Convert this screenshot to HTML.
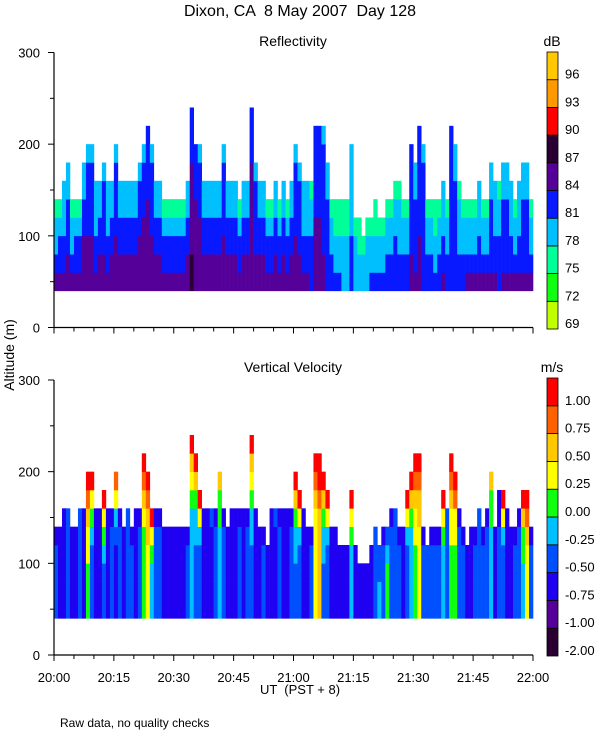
<!DOCTYPE html>
<html><head><meta charset="utf-8"><style>
html,body{margin:0;padding:0;background:#fff;}
svg{display:block;font-family:"Liberation Sans",sans-serif;}
text{white-space:pre;fill:#000;}
</style></head><body>
<svg id="chart" width="600" height="750" viewBox="0 0 600 750">
<text x="300" y="16" font-size="16" text-anchor="middle">Dixon, CA  8 May 2007  Day 128</text>
<text x="293" y="46" font-size="14" text-anchor="middle">Reflectivity</text>
<text x="293" y="372" font-size="14" text-anchor="middle">Vertical Velocity</text>
<text x="552" y="46" font-size="14" text-anchor="middle">dB</text>
<text x="552" y="372" font-size="14" text-anchor="middle">m/s</text>
<text transform="translate(14,355) rotate(-90)" font-size="14" text-anchor="middle">Altitude (m)</text>
<text x="300" y="694" font-size="13" text-anchor="middle">UT  (PST + 8)</text>
<text x="60" y="727" font-size="12">Raw data, no quality checks</text>
<g id="cells"></g>
<g id="axes"></g>
</svg>
<script>
// ---- data (per minute, 20:00 to 21:59 UT) ----
const reflTop = [140,140,160,180,140,140,140,180,200,200,160,160,180,160,160,200,160,160,160,160,160,180,200,220,200,160,160,140,140,140,140,140,140,160,240,200,200,160,160,160,160,160,200,160,160,160,140,160,160,240,180,160,160,140,140,160,140,160,140,160,
200,180,160,160,160,220,220,220,180,140,140,140,140,140,200,120,120,100,120,120,140,120,120,140,140,160,160,140,140,200,180,220,200,140,140,140,140,160,140,220,200,160,140,140,140,140,160,140,140,180,160,160,180,180,160,140,160,180,180,140];
const reflSurf = [85,86,85,86,85,86,86,87,86,86,85,86,86,85,86,86,87,86,86,87,86,87,87,87,86,86,86,86,86,86,86,86,86,86,88,87,87,87,86,86,86,86,86,86,86,86,86,86,87,87,86,86,86,86,86,86,86,86,86,86,
86,86,85,85,84,86,86,85,84,83,82,82,81,81,82,81,80,81,81,82,82,82,82,83,84,84,83,83,84,85,85,85,84,83,83,82,84,85,84,83,83,83,84,85,85,85,85,85,85,85,85,84,85,85,85,85,85,85,85,85];
const reflTopDb = [75.5,76,77,78,75.5,76,75.5,78,80,80,77,77,79,77,77,80,77,77,77,77,77,79,80,81,80,77,77,75.5,75.5,75.5,75.5,75.5,76,77,82,81,80,77,77,77,77,77,80,77,77,77,76,77,77,82,79,77,77,75.5,75.5,77,76,77,75.5,77,
80,79,77,77,77,81,81,80,79,75.5,75.5,75.5,75.5,75.5,79,76,76,77,76,76,75.5,76,76,76,76,77,77,75.5,75.5,81,79,81,80,75.5,75.5,75.5,75.5,77,75.5,81,80,77,75.5,75.5,75.5,75.5,77,75.5,75.5,79,77,77,79,79,77,75.5,77,79,79,75.5];
const velTop = [140,140,160,160,140,140,160,160,200,200,160,160,180,160,160,200,160,140,160,140,160,160,220,200,160,160,160,140,140,140,140,140,140,140,240,220,180,160,160,160,160,200,160,140,160,160,160,160,160,240,160,140,140,120,160,160,160,160,160,160,
200,180,160,140,140,220,220,200,180,140,140,120,120,120,180,120,100,100,100,120,140,120,140,140,160,160,140,140,180,200,220,220,140,120,140,140,140,180,160,220,200,160,140,120,140,140,160,140,160,200,140,180,180,160,140,140,160,180,180,140];
const velBase = [-0.4,-0.6,-0.6,-0.3,-0.6,-0.6,-0.4,-0.6,0.2,-0.4,-0.6,-0.6,-0.3,-0.6,-0.4,-0.6,-0.4,-0.6,-0.3,-0.4,-0.6,-0.4,0.1,0.4,-0.1,-0.4,-0.4,-0.6,-0.6,-0.7,-0.7,-0.6,-0.6,-0.4,-0.2,-0.3,-0.4,-0.6,-0.6,-0.6,-0.4,-0.2,-0.4,-0.6,-0.6,-0.6,-0.4,-0.6,-0.4,-0.3,-0.6,-0.6,-0.4,-0.6,-0.6,-0.6,-0.4,-0.6,-0.6,-0.4,
-0.3,-0.4,-0.6,-0.6,-0.4,0.3,0.6,-0.3,-0.4,-0.6,-0.6,-0.6,-0.6,-0.6,-0.2,-0.6,-0.6,-0.6,-0.6,-0.6,-0.3,-0.2,-0.4,0.1,-0.4,-0.3,-0.4,-0.6,-0.4,-0.2,0.2,0.4,-0.4,-0.3,-0.4,-0.4,-0.4,-0.2,-0.3,0.2,0.1,-0.4,-0.4,-0.6,-0.6,-0.4,-0.3,-0.4,-0.4,-0.2,-0.6,-0.4,-0.4,-0.6,-0.6,-0.4,-0.4,-0.1,0.3,-0.4];
const velTopV = [-0.6,-0.6,-0.6,-0.4,-0.6,-0.6,-0.4,-0.6,1.6,1.6,-0.6,-0.6,1.6,-0.6,-0.6,1.4,-0.6,-0.6,-0.4,-0.6,-0.6,-0.6,1.6,1.6,1.6,-0.6,-0.6,-0.6,-0.6,-0.6,-0.6,-0.6,-0.6,-0.6,1.6,1.6,1.6,-0.6,-0.6,-0.4,-0.6,0.8,-0.6,-0.6,-0.6,-0.6,-0.6,-0.6,-0.6,1.6,-0.6,-0.6,-0.6,-0.6,-0.6,-0.4,-0.6,-0.6,-0.6,-0.6,
1.6,1.6,-0.6,-0.6,-0.6,1.6,1.6,1.6,1.6,-0.6,-0.6,-0.6,-0.6,-0.6,1.6,-0.6,-0.6,-0.6,-0.6,-0.6,-0.4,-0.6,-0.6,-0.6,-0.6,-0.4,-0.6,-0.6,1.6,1.6,1.6,1.6,-0.6,-0.6,-0.6,-0.6,-0.6,1.6,-0.4,1.6,1.6,-0.6,-0.6,-0.6,-0.6,-0.6,-0.4,-0.6,-0.6,0.8,-0.6,-0.8,1.6,-0.6,-0.6,-0.6,-0.6,1.6,1.6,-0.6];
const dbTicks = [69,72,75,78,81,84,87,90,93,96];
const dbColors = ["#c0ff00","#10ff10","#00ff99","#00bfff","#0818ff","#550099","#2a0033","#ff0000","#ff9900","#ffc800"];
const velTicks = ["-2.00","-1.00","-0.75","-0.50","-0.25","0.00","0.25","0.50","0.75","1.00"];
const velEdges = [-2,-1,-0.75,-0.5,-0.25,0,0.25,0.5,0.75,1.0];
const velColors = ["#2a0033","#550099","#2000f0","#0050ff","#00c0ff","#10ff10","#ffff00","#ffc800","#ff6000","#ff0000"];
const altTicks = [0,100,200,300];
const timeLabels = ["20:00","20:15","20:30","20:45","21:00","21:15","21:30","21:45","22:00"];

// ---- geometry ----
const X0 = 54, X1 = 533, NMIN = 120;
const panels = [{y0:327.5, name:"reflectivity"},{y0:655, name:"velocity"}];
const PXM = 0.9167;
function xScale(m){ return X0 + (X1 - X0) * m / NMIN; }
function yScale(p, alt){ return p.y0 - alt * PXM; }
function dbColor(db){ let i = Math.floor((db - 69) / 3); i = Math.max(0, Math.min(9, i)); return dbColors[i]; }
function velColor(v){ let i = 0; for (let k = 0; k < velEdges.length; k++) if (v >= velEdges[k]) i = k; return velColors[i]; }

const NS = "http://www.w3.org/2000/svg";
const cells = document.getElementById("cells");
const axes = document.getElementById("axes");
function mk(tag, attrs, parent){ const e = document.createElementNS(NS, tag); for (const k in attrs) e.setAttribute(k, attrs[k]); parent.appendChild(e); return e; }

// reflectivity cells
for (let m = 0; m < NMIN; m++) {
  const top = reflTop[m];
  for (let a = 40; a < top; a += 20) {
    const g = (top - (a + 10)) / (top - 40);
    const db = reflTopDb[m] + (reflSurf[m] - reflTopDb[m]) * Math.pow(Math.max(g, 0), 0.8);
    const r = mk("rect", {x: xScale(m), y: yScale(panels[0], a + 20), width: xScale(m + 1) - xScale(m) + 0.3, height: 20 * PXM + 0.3, fill: dbColor(db)}, cells);
    
    
  }
}
// velocity cells
for (let m = 0; m < NMIN; m++) {
  const top = velTop[m];
  for (let a = 40; a < top; a += 20) {
    const f = ((a + 10) - 40) / (top - 40);
    const v = velBase[m] + (velTopV[m] - velBase[m]) * Math.pow(f, 4);
    const r = mk("rect", {x: xScale(m), y: yScale(panels[1], a + 20), width: xScale(m + 1) - xScale(m) + 0.3, height: 20 * PXM + 0.3, fill: velColor(v)}, cells);
    
    
  }
}

// axes
panels.forEach((p, pi) => {
  const yl = mk("line", {x1: X0, y1: yScale(p, 300), x2: X0, y2: p.y0, stroke: "#000", "stroke-width": 1.2}, axes);
  
  
  const xl = mk("line", {x1: X0, y1: p.y0, x2: X1, y2: p.y0, stroke: "#000", "stroke-width": 1.2}, axes);
  
  
  for (let a = 0; a <= 300; a += 50) {
    const major = a % 100 === 0;
    mk("line", {x1: X0 - (major ? 6 : 4), y1: yScale(p, a), x2: X0, y2: yScale(p, a), stroke: "#000"}, axes);
  }
  altTicks.forEach(a => {
    const t = mk("text", {x: 40, y: yScale(p, a) + 5, "font-size": 13, "text-anchor": "end"}, axes);
    t.textContent = a;
    
    
  });
  for (let m = 0; m <= NMIN; m += 5) {
    const major = m % 15 === 0;
    mk("line", {x1: xScale(m), y1: p.y0, x2: xScale(m), y2: p.y0 + (major ? 6 : 4), stroke: "#000"}, axes);
  }
});
timeLabels.forEach((lab, i) => {
  const t = mk("text", {x: xScale(i * 15), y: 682, "font-size": 13, "text-anchor": "middle"}, axes);
  t.textContent = lab;
  
  
});

// colorbars
function colorbar(top, bottom, colors, labels, name){
  const h = (bottom - top) / colors.length;
  colors.forEach((c, i) => {
    const r = mk("rect", {x: 547, y: bottom - (i + 1) * h, width: 11, height: h, fill: c, stroke: "#000", "stroke-width": 0.8}, axes);
    
    
  });
  labels.forEach((l, i) => {
    const t = mk("text", {x: 565, y: bottom - i * h - 1, "font-size": 13}, axes);
    t.textContent = l;
    
    
  });
}
colorbar(52, 329, dbColors, dbTicks, 'db-colorbar');
colorbar(378, 656, velColors, velTicks, 'velocity-colorbar');
</script>
</body></html>
